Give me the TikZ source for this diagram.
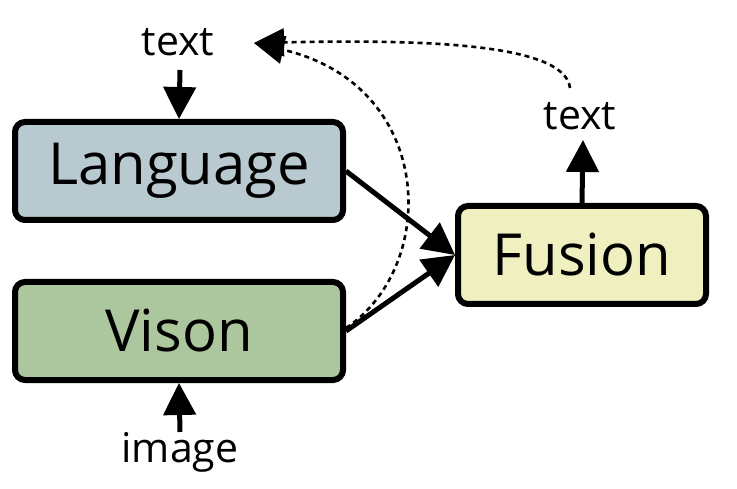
\documentclass[tikz,border=0pt]{standalone}
\usepackage{fontspec}
\setmainfont{Open Sans}
\usetikzlibrary{arrows.meta}
\definecolor{langfill}{HTML}{B8C9D0}
\definecolor{visfill}{HTML}{ACC79E}
\definecolor{fusfill}{HTML}{EFEFBF}
\tikzset{
  blockbox/.style={draw=black, line width=6pt, rounded corners=10pt, minimum width=#1, minimum height=98pt, inner sep=0pt, font=\fontsize{58}{64}\selectfont},
  lbl/.style={inner sep=0pt, font=\fontsize{41}{45}\selectfont},
  flow/.style={line width=5pt, -{Triangle[length=32pt,width=32pt]}},
  fb/.style={line width=2.6pt, dash pattern=on 5pt off 4pt, -{Triangle[length=30pt,width=28pt]}}
}
\begin{document}
\begin{tikzpicture}[x=1pt,y=-1pt]
\useasboundingbox (0,0) rectangle (737,489);
\node[blockbox=328pt, fill=langfill] (lang) at (179,171) {Language};
\node[blockbox=328pt, fill=visfill] (vis) at (179,331) {Vison};
\node[blockbox=248pt, fill=fusfill] (fus) at (582,255) {Fusion};
\node[lbl] (t1) at (178,42) {text};
\node[lbl] (t2) at (580,116) {text};
\node[lbl] (img) at (180,452) {image};
\coordinate (tip) at (254,43);
\coordinate (vs) at (346,328);
\coordinate (fs) at (570,88);
\coordinate (t2in) at (583,140);
\coordinate (t1out) at (180,70);
\coordinate (imgout) at (180,432);
\draw[flow] (t1out) -- (lang.north);
\draw[flow] (imgout) -- (vis.south);
\draw[flow] (fus.north) -- (t2in);
\draw[flow] (lang.east) -- (fus.west);
\draw[flow] (vis.east) -- (fus.west);
\draw[fb] (vs) .. controls (440,265) and (435,85) .. (tip);
\draw[fb] (fs) .. controls (565,40) and (400,40) .. (tip);
\end{tikzpicture}
\end{document}
